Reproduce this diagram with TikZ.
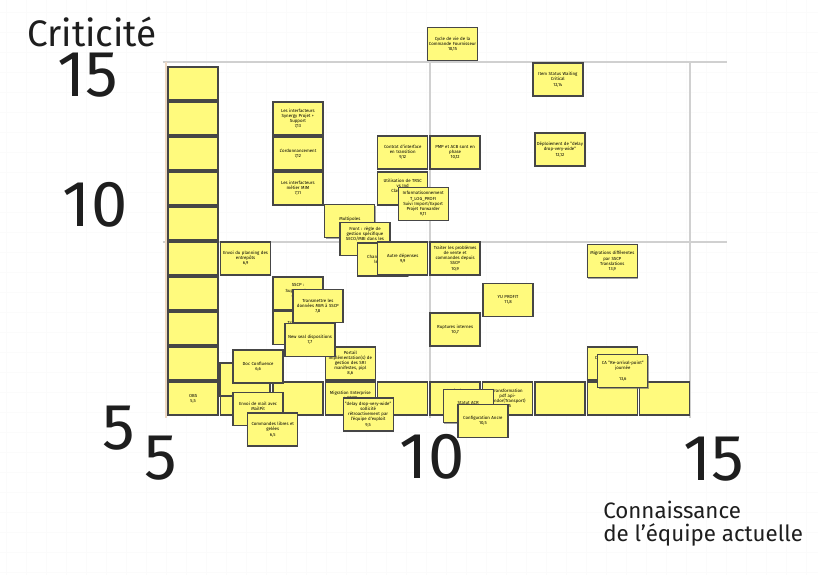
\documentclass[tikz,border=0pt]{standalone}
\usepackage{fontspec}
\setmainfont{Fira Sans}
\usetikzlibrary{shadows}
\definecolor{postit}{RGB}{255,250,125}
\definecolor{bordpostit}{RGB}{70,70,70}
\definecolor{axegris}{RGB}{208,208,208}
\definecolor{axebeige}{RGB}{238,216,194}
\definecolor{encre}{RGB}{30,30,30}
\newcommand{\sanscesure}{\hyphenpenalty=10000\relax}
\tikzset{
  postit/.style={draw=bordpostit, line width=0.75pt, fill=postit, minimum width=1cm, minimum height=0.66cm,
    inner sep=0.5pt, text width=0.95cm, align=center,
    font=\fontsize{2.5}{2.9}\selectfont\sanscesure,
    drop shadow={shadow xshift=0.4pt, shadow yshift=-0.5pt, fill=black!60, opacity=.6}},
  axe/.style={draw=axegris, line width=0.9pt},
  grandchiffre/.style={font=\fontsize{37}{37}\selectfont, text=encre},
  titre/.style={font=\fontsize{21}{23}\selectfont, text=encre}
}
\begin{document}
\begin{tikzpicture}[x=1.048cm, y=0.7cm]
   \useasboundingbox (1.794,0.486) rectangle (17.405,16.914);
   \fill[white] (1.794,0.486) rectangle (17.405,16.914);
   \draw[gray!3, line width=0.3pt] (1.794,0.486) grid[xstep=0.3817, ystep=0.5714] (17.405,16.914);
   \draw[axe] (4.9,15.14) -- (15.67,15.14);
   \draw[axe] (4.9,10) -- (15.67,10);
   \draw[axe] (10,15.14) -- (10,4.97);
   \draw[axe] (14.96,15.14) -- (14.96,4.97);
   \draw[axe, draw=axebeige] (4.96,15.14) -- (4.96,4.97);
   % axes
   \node[titre] (critLabel) at (3.55,16.0) {Criticité};
   \node[grandchiffre] (y15) at (3.47,14.77) {15};
   \node[grandchiffre] (y10) at (3.61,11.06) {10};
   \node[grandchiffre] (y5) at (4.06,4.69) {5};
   \node[grandchiffre] (x5) at (4.87,3.83) {5};
   \node[grandchiffre] (x10) at (10.04,3.86) {10};
   \node[grandchiffre] (x15) at (15.42,3.8) {15};
   \node[anchor=west, align=left, inner sep=0pt, text=encre, font=\fontsize{12.7}{13}\selectfont] (connLabel) at (13.30,1.94) {Connaissance\\de l'équipe actuelle};
   % post-its
   \foreach \y in {6,...,14}
     \node[postit] (vide-5-\y) at (5.48,\y+0.53) {};
   \node[postit] (obs) at (5.48,5.53) {OBS\\5,5};
   \foreach \x in {6,7,9,12,13,14}
     \node[postit] (vide-\x-5) at (\x+0.48,5.53) {};
   \node[postit] (migEnt) at (8.48,5.53) {Migration Enterprise\\+ SSCP\\8,5};
   \node[postit] (copie) at (10.48,5.53) {Copie de\\le planning\\annuel\\10,5};
   \node[postit] (transfo) at (11.48,5.53) {Transformation pdf api-\\Vendor(Transport)\\11,5};
   \node[postit] (videDoc) at (6.47,6.07) {};
   \node[postit] (doc) at (6.72,6.44) {Doc Confluence\\6,6};
   \node[postit] (envoiMail) at (6.72,5.23) {Envoi de mail avec\\MailPit\\6,5};
   \node[postit] (commandes) at (7.0,4.64) {Commandes libres et\\gelées\\6,5};
   \node[postit] (portail) at (8.48,6.53) {Portail\\Implémentation(s) de\\gestion des SRI\\manifestes, pipl\\8,6};
   \node[postit] (delay) at (8.82,5.07) {"delay drop-very-wide"\\sollicité\\rétroactivement par\\l'équipe d'exploit\\9,5};
   \node[postit] (statut) at (10.73,5.31) {Statut ACR\\10,5};
   \node[postit] (config) at (11.01,4.89) {Configuration Ancre\\10,5};
   \node[postit] (caEnc) at (13.48,6.53) {CA Encaissable le\\pas\\13,6};
   \node[postit] (caRe) at (13.68,6.31) {CA "Re-arrival-point"\\journée\\[3pt]13,6};
   \node[postit] (ruptures) at (10.48,7.5) {Ruptures internes\\10,7};
   \node[postit] (sscpSupport) at (7.48,8.53) {SSCP :\\Support des\\ordres\\7,8};
   \node[postit] (tracabilite) at (7.48,7.55) {Traçabilité\\Séries\\7,7};
   \node[postit] (transmettre) at (7.86,8.17) {Transmettre les\\données MIM à SSCP\\7,8};
   \node[postit] (newSeal) at (7.71,7.2) {New seal dispositions\\7,7};
   \node[postit] (planning) at (6.48,9.53) {Envoi du planning des\\entrepôts\\6,9};
   \node[postit] (multipoles) at (8.47,10.59) {Multipoles\\8,10};
   \node[postit] (front) at (8.76,10.09) {Front : règle de\\gestion spécifique\\SECO/MBI dans les\\TR\\8,10};
   \node[postit] (rse) at (9.10,9.5) {RSE\\Changement de\\les Tiers\\8,9};
   \node[postit] (depenses) at (9.48,9.53) {Autre dépenses\\9,9};
   \node[postit] (traiter) at (10.48,9.53) {Traiter les problèmes\\de vente et\\commandes depuis\\SSCP\\10,9};
   \node[postit] (yuProfit) at (11.49,8.34) {YU PROFIT\\11,8};
   \node[postit] (migrations) at (13.48,9.45) {Migrations différentes\\par SSCP\\Translations\\13,9};
   \node[postit] (trsc) at (9.48,11.53) {Utilisation de TRSC\\vs Ind\\Classement\\9,11};
   \node[postit] (tlog) at (9.87,11.09) {Informatisonnement\\T\_LOG\_PROFI\\Suivi Import/Export\\Projet Forwarder\\9,11};
   \node[postit] (contrat) at (9.48,12.56) {Contrat d'interface\\en transition\\9,12};
   \node[postit] (pmp) at (10.48,12.56) {PMP et ACB sont en\\phase\\10,12};
   \node[postit] (deploiement) at (12.48,12.64) {Déploiement de "delay\\drop-very-wide"\\12,12};
   \node[postit] (itemStatus) at (12.44,14.64) {Item Status Waiting\\Critical\\12,14};
   \node[postit] (cycleVie) at (10.43,15.66) {Cycle de vie de la\\Commande Fournisseur\\10,15};
   \node[postit] (synergy) at (7.48,13.53) {Les interfacteurs\\Synergy Projet +\\Support\\7,13};
   \node[postit] (ordo) at (7.48,12.53) {L'ordonnancement\\7,12};
   \node[postit] (mim) at (7.48,11.53) {Les interfacteurs\\métier MIM\\7,11};
\end{tikzpicture}
\end{document}
